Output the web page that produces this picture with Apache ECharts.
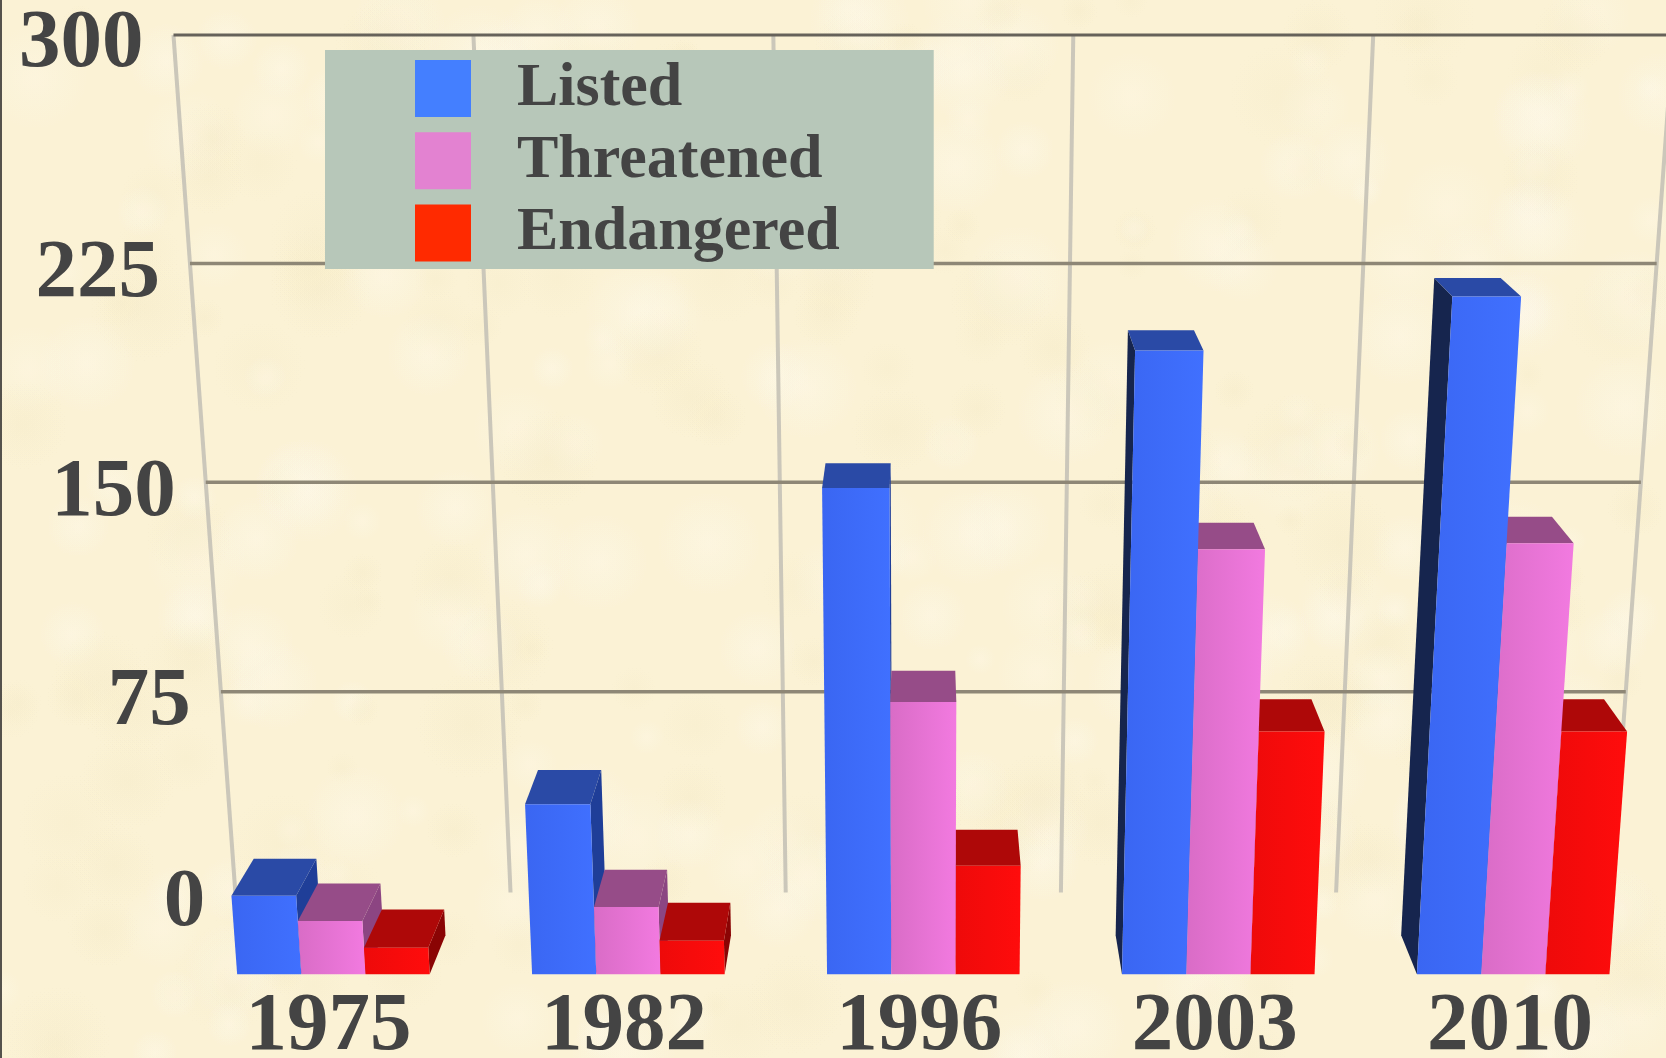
<!DOCTYPE html>
<html>
<head>
<meta charset="utf-8">
<style>html,body{margin:0;padding:0;background:#FBF2D5}#c{width:1666px;height:1058px}</style>
<script src="https://cdn.jsdelivr.net/npm/echarts@6/dist/echarts.min.js"></script>
</head>
<body>
<div id="c"></div>
<script>
const categories = ['1975', '1982', '1996', '2003', '2010'];
const listed = [28, 60, 166, 210, 227];
const threatened = [19, 24, 95, 146, 148];
const endangered = [9.5, 12, 38.5, 85, 85];
const valueTicks = [0, 75, 150, 225, 300];
const boundaries = [0, 1, 2, 3, 4, 5];
const seriesNames = ['Listed', 'Threatened', 'Endangered'];
const legendColors = ['#447FFF', '#E382D1', '#FF2A00'];

const W = 1666, H = 1058, S = W / 1568;
const GL = 184.8, GW = 1477, GT = 35, GH = 939;
const VMAX = 300, BAR = 0.2176, DEPTH = 0.46;
const INK = '#444444', SERIF = '"Liberation Serif", "Times New Roman", serif';

// Perspective view of the grid: t = 0 is the front plane of the bars, t = 1 the back wall.
function project(px, py, t) {
  const X = (px - (GL + GW / 2)) / (GW / 5);
  const V = (GT + GH - py) / GH * VMAX;
  const w = 0.933 + 0.067 * t - 0.000275 * V;
  return [(869 + 259 * X / w) * S, (855.6 - 15.6 * t - 2.699 * V) / w * S];
}

const palettes = [
  { front: ['#3A66F2', '#4070FF'], top: '#2A4AA6', sideR: '#1F3E98', sideL: '#16254E' },
  { front: ['#D96CC6', '#F27AE0'], top: '#964C88', sideR: '#8C4582', sideL: '#7A3A70' },
  { front: ['#EE0A0A', '#FF0C0C'], top: '#AE0808', sideR: '#8A0404', sideL: '#8A0404' }
];

function barItem(j) {
  return function (params, api) {
    const i = api.value(0), v = api.value(1);
    const top = api.coord([i, v]), base = api.coord([i, 0]);
    const band = api.size([1, 0])[0];
    const xl = top[0] + (j - 1.5) * BAR * band, xr = xl + BAR * band;
    const p = (x, y, t) => project(x, y, t);
    const fbl = p(xl, base[1], 0), fbr = p(xr, base[1], 0);
    const ftl = p(xl, top[1], 0), ftr = p(xr, top[1], 0);
    const bbl = p(xl, base[1], DEPTH), bbr = p(xr, base[1], DEPTH);
    const btl = p(xl, top[1], DEPTH), btr = p(xr, top[1], DEPTH);
    const c = palettes[j];
    const mid = ((xl + xr) / 2 - (GL + GW / 2)) / band;
    const z = 10 + (3 - Math.abs(mid)) * 10;
    const poly = (pts, fill, z2) => ({ type: 'polygon', shape: { points: pts }, style: { fill: fill }, z2: z2, silent: true });
    const kids = [];
    if (xr < GL + GW / 2) kids.push(poly([fbr, ftr, btr, bbr], c.sideR, z));
    if (xl > GL + GW / 2) kids.push(poly([fbl, ftl, btl, bbl], c.sideL, z));
    kids.push(poly([ftl, ftr, btr, btl], c.top, z + 0.1));
    kids.push(poly([fbl, fbr, ftr, ftl], {
      type: 'linear', x: 0, y: 0, x2: 1, y2: 0,
      colorStops: [{ offset: 0, color: c.front[0] }, { offset: 1, color: c.front[1] }]
    }, z + 0.2));
    return { type: 'group', children: kids };
  };
}

function tickItem(params, api) {
  const v = api.value(0);
  const a = api.coord([0, v]), band = api.size([1, 0])[0];
  const l = project(a[0] - band / 2, a[1], 1), r = project(a[0] + 4.5 * band, a[1], 1);
  const kids = [{
    type: 'text', silent: true, z2: 5,
    style: { x: l[0] - 30, y: l[1] + (v === VMAX ? 9 : 11), text: String(v), fill: INK, align: 'right', verticalAlign: 'middle',
      font: 'bold 83px ' + SERIF }
  }];
  if (v > 0) kids.push({
    type: 'line', silent: true, z2: 2,
    shape: { x1: l[0], y1: l[1], x2: r[0], y2: r[1] },
    style: { stroke: v === VMAX ? '#66625A' : '#8E8776', lineWidth: v === VMAX ? 3 : 3.5 }
  });
  return { type: 'group', children: kids };
}

function wallItem(params, api) {
  const b = api.value(0);
  const band = api.size([1, 0])[0];
  const c0 = api.coord([0, 0]), c1 = api.coord([0, VMAX]);
  const x = c0[0] - band / 2 + b * band;
  const p0 = project(x, c0[1], 1), p1 = project(x, c1[1], 1);
  return {
    type: 'line', silent: true, z2: 1,
    shape: { x1: p0[0], y1: p0[1], x2: p1[0], y2: p1[1] },
    style: { stroke: '#CBC7BA', lineWidth: 4 }
  };
}

// Parchment backdrop
const tex = document.createElement('canvas');
tex.width = W; tex.height = H;
const g = tex.getContext('2d');
g.fillStyle = '#FBF2D5'; g.fillRect(0, 0, W, H);
let seed = 12345;
const next = () => (seed = (seed * 1103515 + 12345) % 2147483) / 2147483;
for (let n = 0; n < 1000; n++) {
  const x = next() * W, y = next() * H, r = 15 + next() * 40;
  const grad = g.createRadialGradient(x, y, 0, x, y, r);
  const col = next() > 0.45 ? '255,248,232' : '246,236,202';
  grad.addColorStop(0, 'rgba(' + col + ',0.22)');
  grad.addColorStop(1, 'rgba(' + col + ',0)');
  g.fillStyle = grad;
  g.fillRect(x - r, y - r, 2 * r, 2 * r);
}

const chart = echarts.init(document.getElementById('c'), null, { width: W, height: H });
const dataFor = [listed, threatened, endangered];
chart.setOption({
  animation: false,
  backgroundColor: { image: tex, repeat: 'no-repeat' },
  grid: { left: GL, width: GW, top: GT, height: GH, outerBoundsMode: 'none', containLabel: false },
  xAxis: {
    type: 'category', data: categories,
    axisLine: { show: false }, axisTick: { show: false }, splitLine: { show: false },
    axisLabel: { color: INK, fontFamily: SERIF, fontWeight: 'bold', fontSize: 83, margin: 12, padding: [0, 8, 0, 0], interval: 0 }
  },
  yAxis: {
    type: 'value', min: 0, max: VMAX, interval: 75,
    axisLine: { show: false }, axisTick: { show: false }, axisLabel: { show: false }, splitLine: { show: false }
  },
  legend: {
    left: 325, top: 50, orient: 'vertical', backgroundColor: '#B7C7B9',
    padding: [4, 94, 1.5, 90], itemWidth: 56, itemHeight: 57, itemGap: 3.25, icon: 'rect',
    data: seriesNames.map((n, k) => ({ name: n, itemStyle: { color: legendColors[k] } })),
    textStyle: { color: INK, fontFamily: SERIF, fontWeight: 'bold', fontSize: 62, lineHeight: 57, padding: [12, 0, 0, 41] },
    selectedMode: false
  },
  graphic: [{ type: 'rect', shape: { x: 0, y: 0, width: 2, height: H }, style: { fill: '#55524C' }, silent: true }],
  series: [
    { type: 'custom', name: 'wall', coordinateSystem: 'cartesian2d', silent: true, clip: false, encode: { x: -1, y: -1 },
      data: boundaries.map(b => [b]), renderItem: wallItem, z: 1 },
    { type: 'custom', name: 'ticks', coordinateSystem: 'cartesian2d', silent: true, clip: false, encode: { x: -1, y: 0 },
      data: valueTicks.map(v => [v]), renderItem: tickItem, z: 1 }
  ].concat(seriesNames.map((n, j) => ({
    type: 'custom', name: n, coordinateSystem: 'cartesian2d', silent: true, clip: false,
    encode: { x: 0, y: 1 }, itemStyle: { color: legendColors[j] },
    data: dataFor[j].map((v, i) => [i, v]), renderItem: barItem(j), z: 2
  })))
});
</script>
</body>
</html>
